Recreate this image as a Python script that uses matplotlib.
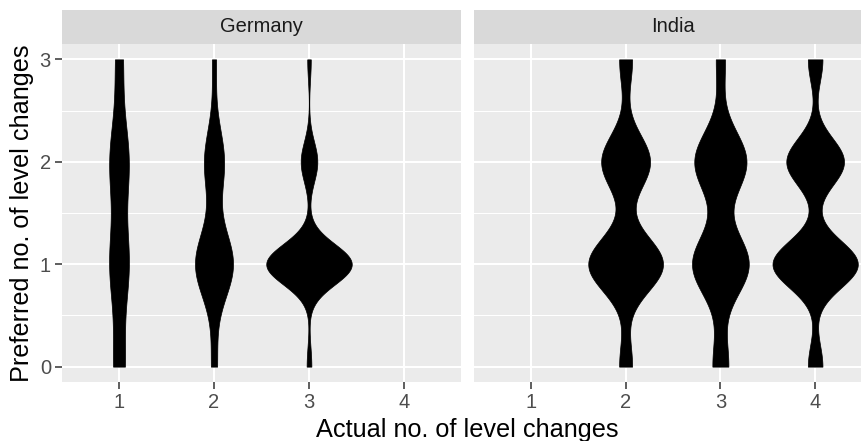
import numpy as np
import matplotlib.pyplot as plt

plt.rcParams['font.family'] = ['Liberation Sans', 'DejaVu Sans']

# Survey responses: how many level changes people would prefer (0..3),
# grouped by the number of level changes they actually had.
pref_levels = [0, 1, 2, 3]
actual_levels = [1, 2, 3, 4]

germany_actual = [1, 2, 3]
germany_counts = [[3, 5, 5, 2],
                  [3, 19, 10, 2],
                  [4, 72, 14, 3]]

india_actual = [2, 3, 4]
india_counts = [[9, 52, 34, 9],
                [7, 25, 23, 4],
                [18, 105, 71, 18]]

panels = [('Germany', germany_actual, germany_counts),
          ('India', india_actual, india_counts)]


def bw_nrd0(x):
    hi = np.std(x, ddof=1)
    q75, q25 = np.percentile(x, [75, 25])
    lo = min(hi, (q75 - q25) / 1.34)
    if lo == 0:
        lo = hi or abs(x[0]) or 1.0
    return 0.9 * lo * len(x) ** -0.2


def ydensity(counts):
    # gaussian kde, trimmed to the data range
    x = np.repeat(pref_levels, counts).astype(float)
    bw = bw_nrd0(x)
    y = np.linspace(x.min(), x.max(), 512)
    d = np.exp(-0.5 * ((y[:, None] - x[None, :]) / bw) ** 2).sum(1)
    d /= len(x) * bw * np.sqrt(2 * np.pi)
    return y, d


W, H = 861, 441
fig = plt.figure(figsize=(W / 100, H / 100), dpi=100)


def box(l, t, r, b):
    return [l / W, 1 - b / H, (r - l) / W, (b - t) / H]


panel_px = [(62, 461), (474, 872)]
grey_txt = '#4D4D4D'

for i, (name, actual, counts) in enumerate(panels):
    l, r = panel_px[i]
    ax = fig.add_axes(box(l, 44, r, 382))
    ax.set_facecolor('#EBEBEB')
    ax.set_xlim(0.4, 4.6)
    ax.set_ylim(-0.15, 3.15)
    for s in ax.spines.values():
        s.set_visible(False)

    for yv in [0.5, 1.5, 2.5]:
        ax.axhline(yv, color='white', lw=0.75, zorder=0)
    for yv in pref_levels:
        ax.axhline(yv, color='white', lw=1.5, zorder=0)
    for xv in actual_levels:
        ax.axvline(xv, color='white', lw=1.5, zorder=0)

    # area-scaled violins: widths share one scale within the panel
    dens = [ydensity(c) for c in counts]
    dmax = max(d.max() for _, d in dens)
    for xc, (y, d) in zip(actual, dens):
        hw = 0.45 * d / dmax
        ax.fill_betweenx(y, xc - hw, xc + hw, color='black',
                         edgecolor='black', lw=0.5, zorder=2)

    ax.set_xticks(actual_levels)
    ax.set_xticklabels([str(v) for v in actual_levels])
    ax.set_yticks(pref_levels)
    ax.tick_params(length=5, width=1.1, color='#333333', labelcolor=grey_txt,
                   labelsize=14.5, pad=3)
    if i == 0:
        ax.set_yticklabels([str(v) for v in pref_levels])
    else:
        ax.tick_params(axis='y', length=0, labelleft=False)

    sax = fig.add_axes(box(l, 10, r, 44))
    sax.set_facecolor('#D9D9D9')
    sax.set_xticks([])
    sax.set_yticks([])
    for s in sax.spines.values():
        s.set_visible(False)
    sax.text(0.5, 0.5, name, ha='center', va='center', fontsize=14.5,
             color='#1A1A1A', transform=sax.transAxes)

fig.text(467 / W, 1 - 430 / H, 'Actual no. of level changes', ha='center',
         va='center', fontsize=18.2, color='black')
fig.text(22 / W, 1 - 213 / H, 'Preferred no. of level changes', ha='center',
         va='center', rotation=90, fontsize=18.2, color='black')

fig.savefig('out.png', dpi=100)
